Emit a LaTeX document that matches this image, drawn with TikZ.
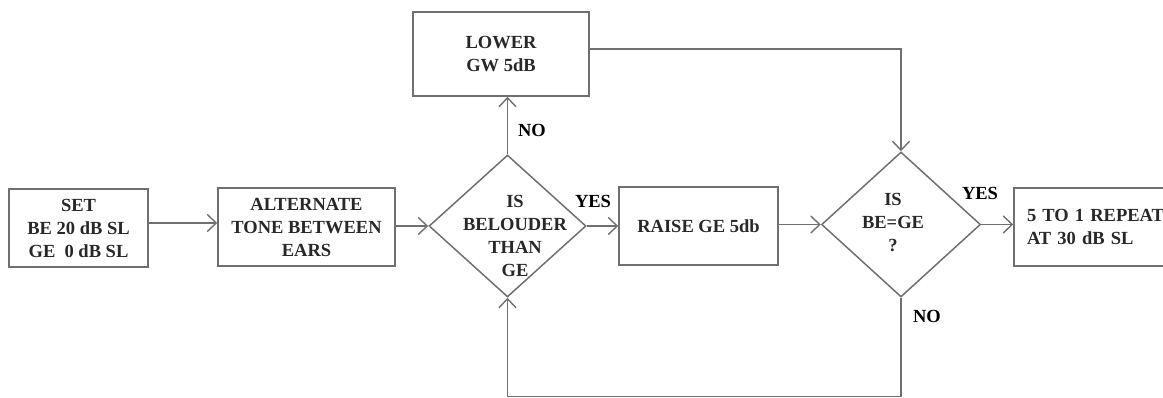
\documentclass[tikz,border=0pt]{standalone}
\usepackage{fontspec}
\setmainfont{Liberation Serif}
\usepackage{tikz}
\usetikzlibrary{arrows.meta,positioning,shapes.geometric}
\definecolor{linegray}{RGB}{112,112,112}
\definecolor{textgray}{RGB}{40,40,40}

\begin{document}
\begin{tikzpicture}[
      x=1pt, y=-1pt,
      >={Straight Barb[length=9pt,width=17pt]},
      line width=1.4pt,
      box/.style={rectangle, draw=linegray, line width=1.5pt, align=center, inner sep=0pt,
        font=\fontsize{18.5}{23}\selectfont\bfseries, text=textgray},
      test/.style={diamond, draw=linegray, line width=1.5pt, inner sep=0pt},
      test text/.style={align=center, font=\fontsize{18.5}{23}\selectfont\bfseries, text=textgray},
      flow/.style={->, draw=linegray},
      lbl/.style={font=\fontsize{18.5}{23}\selectfont\bfseries, text=black},
  ]
      \path[use as bounding box] (0,0) rectangle (1163,398);
      \clip (0,0) rectangle (1163,398);

      % Boxes
      \node[box, minimum width=139pt, minimum height=78pt] (set) at (78.5,228) {SET\\BE 20 dB SL\\GE~~0 dB SL};
      \node[box, minimum width=177pt, minimum height=78pt] (alt) at (306.5,227) {ALTERNATE\\TONE BETWEEN\\EARS};
      \node[box, minimum width=176pt, minimum height=84pt] (lower) at (501,54) {LOWER\\GW 5dB};
      \node[box, minimum width=159pt, minimum height=78pt] (raise) at (698.5,226) {RAISE GE 5db};
      \node[box, minimum height=78pt, text width=154pt, inner xsep=13pt, align=left] (repeat) at (1104,227) {5 TO 1 REPEAT\\AT 30 dB SL};

      % Decisions
      \node[test, minimum width=157pt, minimum height=142pt] (louder) at (507.5,226) {};
      \node[test text] (loudertext) at (515,236) {IS\\BELOUDER\\THAN\\GE};
      \node[test, minimum width=159pt, minimum height=145pt] (equal) at (901,224.5) {};
      \node[test text] (equaltext) at (893,223) {IS\\BE=GE\\?};

      % Flow
      \draw[flow] (set.east |- 0,223) -- (alt.west |- 0,223);
      \draw[flow] (alt.east |- louder.west) -- (louder.west);
      \draw[flow] (louder.east) -- (raise.west |- louder.east);
      \draw[flow] (raise.east |- equal.west) -- (equal.west);
      \draw[flow] (equal.east) -- (repeat.west |- equal.east);
      \draw[flow] (louder.north) -- (lower.south -| louder.north);
      \draw[flow] (lower.east |- 0,49) -- (equal.north |- 0,49) -- (equal.north);
      \draw[flow] (equal.south) -- (equal.south |- 0,396.5) -- (louder.south |- 0,396.5) -- (louder.south);

      % Labels
      \node[lbl] (yes1) at (593,201) {YES};
      \node[lbl] (no1) at (532,130) {NO};
      \node[lbl] (yes2) at (980,193) {YES};
      \node[lbl] (no2) at (927,316) {NO};

  \end{tikzpicture}
\end{document}
